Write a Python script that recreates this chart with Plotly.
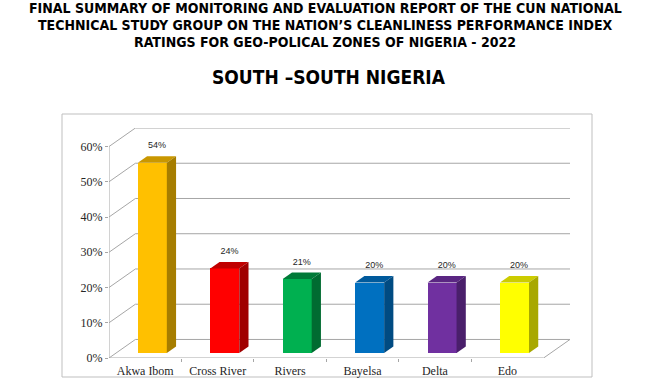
import plotly.graph_objects as go

# ---- data ----
categories = ["Akwa Ibom", "Cross River", "Rivers", "Bayelsa", "Delta", "Edo"]
values = [54, 24, 21, 20, 20, 20]
value_labels = ["54%", "24%", "21%", "20%", "20%", "20%"]
y_ticks = [0, 10, 20, 30, 40, 50, 60]
y_tick_labels = ["0%", "10%", "20%", "30%", "40%", "50%", "60%"]
front_colors = ["#FFC000", "#FF0000", "#00B050", "#0070C0", "#7030A0", "#FFFF00"]
top_colors = ["#C99700", "#C00000", "#007A38", "#005A9C", "#5A2682", "#CCCC00"]
side_colors = ["#A67D00", "#A00000", "#006B31", "#004B82", "#4A1F6B", "#A8A800"]

title_lines = [
    "FINAL SUMMARY OF MONITORING AND EVALUATION REPORT OF THE CUN NATIONAL",
    "TECHNICAL STUDY GROUP ON THE NATION\u2019S CLEANLINESS PERFORMANCE INDEX",
    "RATINGS FOR GEO-POLICAL ZONES OF NIGERIA - 2022",
]
subtitle = "SOUTH \u2013SOUTH NIGERIA"

# ---- 3D geometry (in axis units) ----
W, H = 650, 380
ML, MR, MT, MB = 109, 80, 128, 22
PW, PH = W - ML - MR, H - MT - MB
DX = 0.3645        # depth of chart box along x (category units)
DY = 5.26          # depth of chart box along y (percent units)
BAR_W = 0.40
BAR_F0 = 0.27      # bar front face depth fraction
BAR_D = 0.35       # bar depth fraction
n = len(categories)
x_max = n - 0.5 + DX
y_max = max(y_ticks) + DY

TITLE_FONT = "DejaVu Sans Condensed, DejaVu Sans, sans-serif"

fig = go.Figure()

grid_col = "#A6A6A6"
shapes = []
for v in y_ticks:
    shapes.append(dict(type="line", xref="x", yref="y", layer="below",
                       x0=-0.5 + DX, x1=x_max, y0=v + DY, y1=v + DY,
                       line=dict(color=grid_col, width=1)))
    shapes.append(dict(type="line", xref="x", yref="y", layer="below",
                       x0=-0.5, x1=-0.5 + DX, y0=v, y1=v + DY,
                       line=dict(color=grid_col, width=1)))
shapes.append(dict(type="line", xref="x", yref="y", layer="below",
                   x0=-0.5, x1=-0.5, y0=0, y1=max(y_ticks),
                   line=dict(color=grid_col, width=1)))
shapes.append(dict(type="line", xref="x", yref="y", layer="below",
                   x0=-0.5, x1=n - 0.5, y0=0, y1=0,
                   line=dict(color=grid_col, width=1)))
shapes.append(dict(type="line", xref="x", yref="y", layer="below",
                   x0=n - 0.5, x1=x_max, y0=0, y1=DY,
                   line=dict(color=grid_col, width=1)))
# outer frame
shapes.append(dict(type="rect", xref="paper", yref="paper", layer="below",
                   x0=(62 - ML) / PW, x1=(592 - ML) / PW,
                   y0=-(377 - (H - MB)) / PH, y1=((H - MB) - 114) / PH,
                   line=dict(color="#BFBFBF", width=1)))

fx = BAR_F0 * DX
fy = BAR_F0 * DY
bdx = BAR_D * DX
bdy = BAR_D * DY
xs = [i + fx for i in range(n)]
fig.add_trace(go.Bar(x=xs, y=values, base=fy, width=BAR_W,
                     marker=dict(color=front_colors, line=dict(width=0)),
                     hoverinfo="skip", showlegend=False))

for i, v in enumerate(values):
    xl = xs[i] - BAR_W / 2
    xr = xs[i] + BAR_W / 2
    top = fy + v
    fig.add_trace(go.Scatter(
        x=[xl, xr, xr + bdx, xl + bdx, xl],
        y=[top, top, top + bdy, top + bdy, top],
        fill="toself", fillcolor=top_colors[i], mode="lines",
        line=dict(width=0, color=top_colors[i]), hoverinfo="skip", showlegend=False))
    fig.add_trace(go.Scatter(
        x=[xr, xr, xr + bdx, xr + bdx, xr],
        y=[fy, top, top + bdy, fy + bdy, fy],
        fill="toself", fillcolor=side_colors[i], mode="lines",
        line=dict(width=0, color=side_colors[i]), hoverinfo="skip", showlegend=False))

fig.add_trace(go.Scatter(
    x=[x + bdx / 2 for x in xs],
    y=[fy + v + bdy + 2.9 for v in values],
    mode="text", text=value_labels, textposition="middle center",
    textfont=dict(family="Liberation Sans, Arial, sans-serif", size=9, color="#262626"),
    hoverinfo="skip", showlegend=False))

annotations = []
for k, line in enumerate(title_lines):
    annotations.append(dict(text="<b>%s</b>" % line, xref="paper", yref="paper",
                            x=(325 - ML) / PW,
                            y=((H - MB) - (8 + 17 * k)) / PH,
                            xanchor="center", yanchor="middle", showarrow=False,
                            font=dict(family=TITLE_FONT, size=14, color="#000000")))
annotations.append(dict(text="<b>%s</b>" % subtitle, xref="paper", yref="paper",
                        x=(329 - ML) / PW,
                        y=((H - MB) - 77) / PH,
                        xanchor="center", yanchor="middle", showarrow=False,
                        font=dict(family=TITLE_FONT, size=19, color="#000000")))

fig.update_layout(
    width=W, height=H,
    margin=dict(l=ML, r=MR, t=MT, b=MB, autoexpand=False),
    paper_bgcolor="white", plot_bgcolor="rgba(0,0,0,0)",
    shapes=shapes, annotations=annotations,
    bargap=0, showlegend=False,
    xaxis=dict(range=[-0.5, x_max], tickmode="array", automargin=False,
               tickvals=list(range(n)), ticktext=categories,
               showgrid=False, zeroline=False, showline=False,
               ticks="outside", ticklen=2, tickcolor="rgba(0,0,0,0)",
               minor=dict(tickmode="array", tickvals=[i + 0.5 for i in range(n - 1)],
                          ticks="outside", ticklen=3, tickcolor=grid_col, showgrid=False),
               tickfont=dict(family="Liberation Serif, Times New Roman, serif",
                             size=12, color="#262626"),
               fixedrange=True),
    yaxis=dict(range=[0, y_max], tickmode="array", tickvals=y_ticks, automargin=False,
               ticktext=y_tick_labels, showgrid=False, zeroline=False,
               showline=False, ticks="outside", ticklen=3, tickcolor=grid_col,
               tickfont=dict(family="Liberation Serif, Times New Roman, serif",
                             size=12, color="#262626"),
               fixedrange=True),
)

fig.write_html("out.html", config={"displayModeBar": False},
               post_script="document.body.style.margin='0';document.body.style.overflow='hidden';")
